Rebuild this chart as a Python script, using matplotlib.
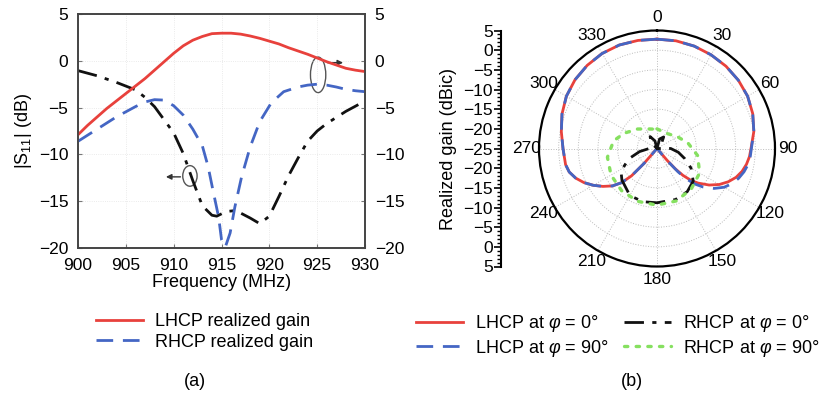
import numpy as np
import matplotlib
matplotlib.use('Agg')
import matplotlib.pyplot as plt
from matplotlib.patches import Ellipse
from matplotlib.ticker import MultipleLocator, FuncFormatter

plt.rcParams['font.family'] = ['Liberation Sans', 'DejaVu Sans']
plt.rcParams['mathtext.fontset'] = 'custom'
plt.rcParams['mathtext.rm'] = 'Liberation Sans'
plt.rcParams['mathtext.it'] = 'Liberation Sans:italic'
plt.rcParams['axes.unicode_minus'] = True

# (a) frequency sweep
f_lhcp = [900, 901, 902, 903, 904, 905, 906, 907, 908, 909, 910, 911, 912, 913, 914, 915,
          916, 917, 918, 919, 920, 921, 922, 923, 924, 925, 926, 927, 928, 929, 930]
lhcp_gain = [-7.9, -6.9, -6.0, -5.1, -4.3, -3.5, -2.7, -1.9, -1.0, -0.1, 0.8, 1.6, 2.2, 2.6, 2.9, 2.95,
             2.95, 2.85, 2.65, 2.4, 2.1, 1.8, 1.4, 1.05, 0.7, 0.3, -0.1, -0.45, -0.8, -1.0, -1.15]

f_rhcp = [900, 902, 904, 906, 907, 908, 909, 910, 911, 912, 913, 913.6, 914.1, 914.7, 915, 915.4,
          915.9, 916.4, 917.1, 918, 919, 920.2, 921.5, 923, 924, 925, 926, 927, 928, 929, 930]
rhcp_gain = [-8.6, -7.3, -6.0, -4.9, -4.4, -4.15, -4.2, -4.8, -5.8, -7.3, -9.1, -11.3, -13.8, -16.7, -19.1, -19.9,
             -18.4, -15.6, -12.4, -9.2, -6.5, -4.5, -3.3, -2.8, -2.6, -2.5, -2.6, -2.8, -3.05, -3.2, -3.3]

f_s11 = [900, 902, 904, 906, 907, 908, 909, 910, 911, 912, 913, 914, 914.5, 915.5, 916.5, 918,
         919, 920, 921, 922, 923, 924, 925, 926, 928, 930]
s11 = [-1.05, -1.6, -2.3, -3.1, -3.9, -4.9, -6.3, -7.7, -9.9, -12.8, -15.5, -16.5, -16.6, -16.1, -16.0, -16.8,
       -17.4, -16.6, -14.5, -12.3, -10.4, -8.6, -7.5, -6.7, -5.4, -4.3]

# (b) radiation patterns, theta in degrees
th_lhcp = [0, 10, 20, 30, 40, 50, 60, 70, 80, 90, 95, 100, 105, 110, 115, 120, 125, 130, 133, 136,
           138, 139.5, 140.5, 219.5, 221, 223, 226, 230, 235, 240, 245, 250, 255, 260, 270, 280,
           290, 300, 310, 320, 330, 340, 350, 360]
lhcp0 = [2.8, 2.8, 2.7, 2.5, 2.3, 2.0, 1.6, 0.9, 0.0, -1.1, -1.4, -1.9, -2.6, -3.6, -5.0, -6.7, -8.8, -11.3, -13, -15.5,
         -18, -21, -25, -25, -20, -15.5, -12.5, -10.2, -8.2, -6.3, -4.5, -3.0, -1.9, -1.4, -1.1, -0.3,
         0.7, 1.6, 2.2, 2.6, 2.9, 3.0, 2.9, 2.8]
lhcp90 = [2.8, 2.8, 2.7, 2.5, 2.3, 2.0, 1.6, 0.9, 0.0, -1.0, -1.2, -1.5, -2.1, -2.9, -3.9, -5.3, -7.3, -9.8, -11.7, -14.2,
          -17, -20.5, -25, -25, -20, -15.5, -12.5, -10.2, -8.2, -6.3, -4.5, -3.0, -1.9, -1.4, -1.1, -0.3,
          0.7, 1.6, 2.2, 2.6, 2.9, 3.0, 2.9, 2.8]

th_rhcp0 = [0, 15, 30, 45, 60, 80, 90, 100, 110, 120, 132, 145, 160, 180, 195, 210, 228, 238, 250, 260,
            270, 285, 300, 315, 330, 345, 360]
rhcp0 = [-25, -22.5, -21.6, -23.5, -25, -25, -21.5, -19.5, -17.5, -15, -12.6, -11.6, -11.2, -11.2, -11, -11.2,
         -13, -14.2, -17.4, -20.5, -23, -25, -25, -23, -21.5, -23, -25]

th_rhcp90 = [0, 30, 60, 80, 100, 120, 140, 160, 180, 200, 220, 240, 260, 280, 295, 315, 335, 350, 360]
rhcp90 = [-20, -20.5, -19, -17, -14.5, -12.5, -11.5, -10.8, -10.6, -10.7, -11, -11.5, -12.2, -13.8, -15.8,
          -18, -19.5, -20, -20]

fig = plt.figure(figsize=(8.21, 3.97), dpi=100)
W, H = 821, 397

# ---- panel (a)
ax1 = fig.add_axes([78 / W, 1 - 248 / H, 287 / W, 234 / H])
ax2 = ax1.twinx()
ax1.plot(f_s11, s11, color='#111111', lw=2, dashes=(7, 3, 1.5, 3))
ax2.plot(f_lhcp, lhcp_gain, color='#e8413c', lw=2, label='LHCP realized gain')
ax2.plot(f_rhcp, rhcp_gain, color='#4466c4', lw=2, dashes=(6, 3.5), label='RHCP realized gain')
for a in (ax1, ax2):
    a.set_xlim(900, 930)
    a.set_ylim(-20, 5)
    a.set_yticks(np.arange(-20, 6, 5))
    a.tick_params(labelsize=12.5, direction='in', length=3, color='#777777', pad=7)
    for s in a.spines.values():
        s.set_color('#444444')
        s.set_linewidth(1.2)
ax1.set_xticks(np.arange(900, 931, 5))
ax1.grid(True, color='#e4e4e4', lw=0.6, ls=':')
ax1.set_xlabel('Frequency (MHz)', fontsize=13, labelpad=1)
ax1.set_ylabel('|S$_{11}$| (dB)', fontsize=13, labelpad=3)

# callouts
ax1.add_patch(Ellipse((925.1, -1.5), 1.6, 3.8, fill=False, ec='#555555', lw=1))
ax1.annotate('', xy=(928.0, -0.2), xytext=(925.8, -0.2),
             arrowprops=dict(arrowstyle='-|>', color='#333333', lw=1, mutation_scale=8))
ax1.add_patch(Ellipse((911.7, -12.3), 1.5, 2.2, fill=False, ec='#555555', lw=1))
ax1.annotate('', xy=(908.9, -12.4), xytext=(911.0, -12.4),
             arrowprops=dict(arrowstyle='-|>', color='#333333', lw=1, mutation_scale=8))

fig.legend(handles=ax2.get_lines(), loc='upper left', bbox_to_anchor=(96 / W, 1 - 313 / H),
           frameon=False, fontsize=13, handlelength=2.6, handletextpad=0.65,
           labelspacing=0.2, borderpad=0, borderaxespad=0)
fig.text(195 / W, 1 - 382 / H, '(a)', fontsize=13, ha='center', va='center')

# ---- panel (b)
axp = fig.add_axes([539 / W, 1 - 266.5 / H, 236 / W, 236 / H], projection='polar')
axp.set_theta_zero_location('N')
axp.set_theta_direction(-1)
lr, = axp.plot(np.deg2rad(th_lhcp), lhcp0, color='#e8413c', lw=2, label=r'LHCP at $\varphi$ = 0°')
lb, = axp.plot(np.deg2rad(th_lhcp), lhcp90, color='#4466c4', lw=2, dashes=(6, 3.5),
               label=r'LHCP at $\varphi$ = 90°')
lk, = axp.plot(np.deg2rad(th_rhcp0), rhcp0, color='#111111', lw=2, dashes=(7, 3, 1.5, 3),
               label=r'RHCP at $\varphi$ = 0°')
lg, = axp.plot(np.deg2rad(th_rhcp90), rhcp90, color='#86e060', lw=2.4, dashes=(1, 2.5),
               dash_capstyle='round', label=r'RHCP at $\varphi$ = 90°')
axp.set_rlim(-25, 5)
axp.set_rgrids([-20, -15, -10, -5, 0], labels=[])
axp.set_thetagrids(np.arange(0, 360, 30), [str(t) for t in range(0, 360, 30)], fontsize=12.5)
axp.set_xticks(np.deg2rad(np.arange(0, 360, 10)), minor=True)
axp.tick_params(axis='x', which='both', direction='in', length=5, width=1, pad=2)
axp.grid(True, color='#bbbbbb', lw=0.7, ls=':')
axp.spines['polar'].set_linewidth(1.6)

# radial scale drawn to the left of the polar plot
sc = fig.add_axes([501 / W, 1 - 266.5 / H, 0.0001, 236 / H])
sc.set_ylim(-30, 30)
sc.yaxis.set_major_locator(MultipleLocator(5))
sc.yaxis.set_minor_locator(MultipleLocator(1))
sc.yaxis.set_major_formatter(FuncFormatter(lambda v, p: f'{-25 + abs(v):g}'.replace('-', '\u2212')))
sc.tick_params(axis='y', which='major', direction='out', length=5, width=1.2, labelsize=12.5, pad=1)
sc.tick_params(axis='y', which='minor', direction='out', length=3, width=1)
sc.set_xticks([])
for k in ('top', 'right', 'bottom'):
    sc.spines[k].set_visible(False)
sc.spines['left'].set_linewidth(1.5)
sc.patch.set_visible(False)
sc.set_ylabel('Realized gain (dBic)', fontsize=13, labelpad=4)

fig.legend(handles=[lr, lb, lk, lg], ncol=2, loc='upper left', bbox_to_anchor=(416 / W, 1 - 313 / H),
           frameon=False, fontsize=13, handlelength=2.6, handletextpad=0.65,
           labelspacing=0.2, columnspacing=0.9, borderpad=0, borderaxespad=0)
fig.text(632 / W, 1 - 382 / H, '(b)', fontsize=13, ha='center', va='center')

fig.savefig('out.png', dpi=100)
